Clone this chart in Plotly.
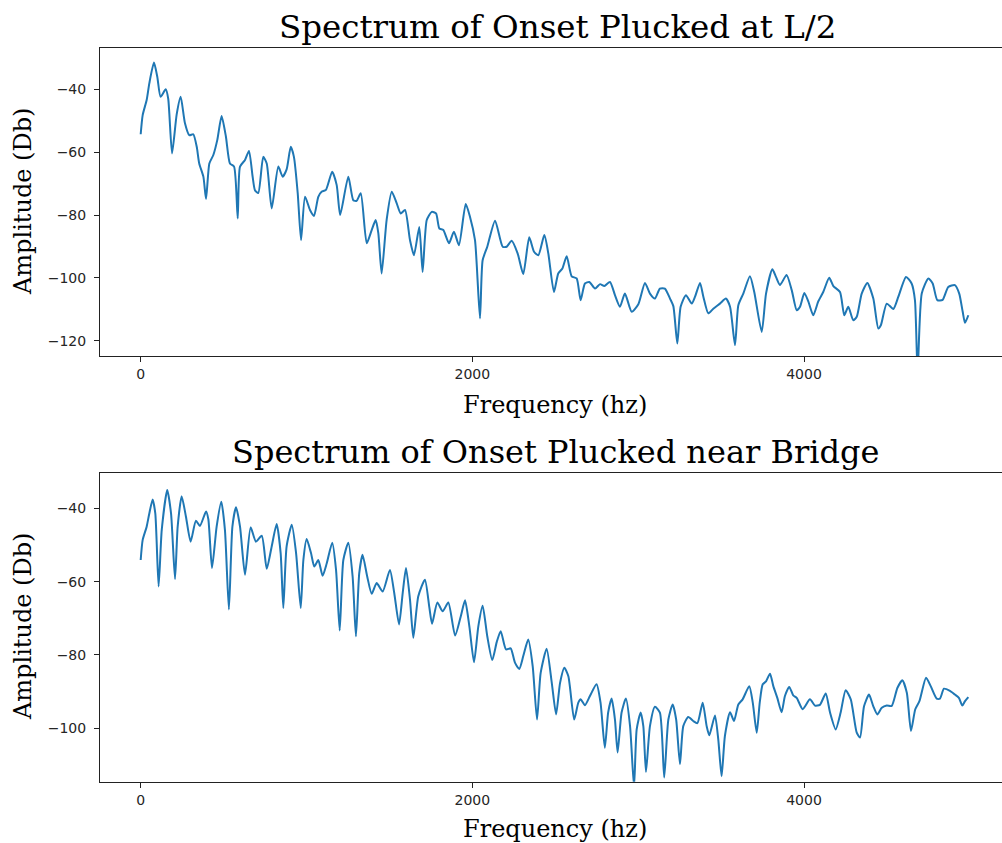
import plotly.graph_objects as go

# ---------------- data ----------------
freq_top = [0, 12, 36, 52, 80, 100, 120, 151, 166, 189, 217, 241, 267, 293, 317, 338, 353, 378, 394, 414,
            438, 462, 488, 514, 538, 563, 585, 599, 629, 653, 675, 689, 709, 739, 760, 790, 830, 856, 880, 905,
            924, 947, 967, 991, 1021, 1045, 1071, 1091, 1117, 1155, 1182, 1203, 1252, 1282, 1302, 1327, 1363,
            1393, 1417, 1433, 1453, 1483, 1514, 1544, 1568, 1594, 1624, 1648, 1680, 1700, 1725, 1755, 1781,
            1801, 1825, 1859, 1889, 1919, 1960, 1986, 2016, 2046, 2062, 2090, 2137, 2183, 2207, 2237, 2273,
            2307, 2343, 2372, 2398, 2434, 2458, 2492, 2518, 2543, 2569, 2599, 2629, 2653, 2679, 2705, 2740,
            2770, 2796, 2830, 2860, 2890, 2920, 2961, 3001, 3041, 3071, 3101, 3131, 3161, 3192, 3212, 3236,
            3256, 3288, 3323, 3343, 3373, 3393, 3423, 3453, 3493, 3529, 3554, 3584, 3604, 3634, 3674, 3700,
            3745, 3771, 3809, 3831, 3855, 3895, 3926, 3956, 3976, 4002, 4026, 4056, 4086, 4116, 4152, 4177,
            4217, 4243, 4267, 4297, 4318, 4348, 4382, 4418, 4448, 4464, 4499, 4539, 4569, 4615, 4649, 4669,
            4685, 4710, 4750, 4776, 4804, 4836, 4870, 4910, 4936, 4957, 4971, 4991]
amp_top = [-54.3, -48.2, -43.4, -38.1, -31.5, -36, -42.4, -40, -43, -60.4, -48, -42.4, -50.8, -54.6, -54.3,
           -58.3, -63.6, -67.8, -74.9, -63.6, -60.9, -56.1, -48.5, -55.1, -63.6, -64.6, -81.1, -64.6, -62.5,
           -59.6, -67.8, -72.1, -73, -61.5, -63.6, -77.9, -64.6, -67.8, -65.5, -58.3, -61.5, -73.1, -88,
           -74.2, -78.4, -80.3, -74.2, -72.6, -72, -66.2, -70.5, -80, -67.8, -75.3, -75.5, -73.1, -89,
           -84.8, -81.6, -85.8, -98.6, -81.6, -72.6, -76.3, -79.5, -78.4, -88, -92.8, -83.8, -98.1, -81.6,
           -79, -79.5, -84.3, -84.8, -89, -85.3, -89.6, -76.5, -80.6, -88, -112.9, -94.4, -90.1, -81.8,
           -90.1, -90.1, -88.2, -92.2, -98.8, -87.1, -91.7, -92.8, -86.4, -92.2, -104.5, -98.6, -97, -93.1,
           -99.5, -100.2, -107.1, -101.8, -101.3, -103.4, -102, -102.6, -101.3, -105.5, -109.2, -105,
           -110.8, -108.4, -101.6, -105, -106.6, -103.4, -103.4, -106.6, -109, -120.9, -109.2, -105.5,
           -108.2, -106, -101.6, -106, -111.3, -109.8, -108.2, -106.6, -109.2, -121.4, -108.7, -105, -99.5,
           -104.5, -117.2, -105, -97.3, -99.7, -102.3, -99.1, -103.9, -110.3, -109.2, -104.8, -107.5,
           -111.9, -107.5, -104.5, -100, -102.6, -104.5, -111.9, -109.2, -113.5, -112.4, -105, -101.6,
           -106.6, -116.1, -115, -108.2, -109.9, -106, -99.7, -101.8, -107.1, -130, -105, -100.2, -101.8,
           -107.1, -107, -102.9, -102.3, -105, -110.8, -114.3, -111.9]

freq_bottom = [0, 12, 36, 52, 72, 88, 108, 127, 160, 183, 207, 223, 247, 273, 301, 333, 357, 394, 408, 430,
               458, 486, 508, 532, 553, 575, 599, 629, 663, 695, 730, 760, 790, 820, 844, 860, 880, 911, 937,
               965, 981, 1001, 1027, 1047, 1071, 1097, 1122, 1155, 1178, 1200, 1222, 1252, 1278, 1298, 1318,
               1338, 1366, 1393, 1423, 1459, 1503, 1529, 1558, 1580, 1600, 1624, 1644, 1674, 1714, 1740, 1757,
               1789, 1821, 1855, 1896, 1930, 1956, 1982, 2010, 2036, 2062, 2090, 2120, 2147, 2171, 2203, 2231,
               2257, 2283, 2307, 2337, 2364, 2390, 2412, 2448, 2479, 2505, 2529, 2555, 2579, 2614, 2639, 2653,
               2679, 2709, 2749, 2773, 2799, 2819, 2840, 2860, 2876, 2900, 2926, 2951, 2975, 2991, 3015, 3031,
               3047, 3071, 3101, 3131, 3157, 3182, 3208, 3229, 3252, 3272, 3302, 3332, 3357, 3389, 3413, 3429,
               3463, 3483, 3503, 3523, 3554, 3578, 3604, 3630, 3670, 3691, 3715, 3733, 3751, 3771, 3795, 3815,
               3839, 3865, 3885, 3911, 3935, 3956, 3992, 4036, 4066, 4096, 4131, 4157, 4191, 4221, 4251, 4282,
               4318, 4338, 4362, 4392, 4418, 4442, 4469, 4499, 4529, 4563, 4593, 4620, 4645, 4671, 4696, 4736,
               4764, 4800, 4820, 4844, 4880, 4910, 4934, 4955, 4971, 4991]
amp_bottom = [-54.1, -48.6, -45, -41.4, -37.6, -41.4, -61.3, -45.9, -35, -41.4, -59.3, -45, -36.7, -42.3,
              -49.1, -43.4, -44.8, -40.9, -43, -56.3, -45, -38.2, -45.9, -67.6, -45, -39.7, -45, -58.1, -45.2,
              -49.1, -47.5, -56.5, -50.4, -44.3, -52.2, -67.2, -50.4, -44.5, -52.2, -67.2, -54.1, -48.4, -52.2,
              -55.9, -54.1, -58.4, -55, -49.4, -56.8, -73.3, -54.1, -49.4, -58.6, -74.9, -57.7, -52.7, -58.6,
              -63.3, -60.4, -62.7, -56.8, -63.1, -71.7, -63.1, -56.3, -64.9, -75.3, -64, -59.5, -66.8, -71.5,
              -65.7, -68.1, -65.7, -74.7, -69.5, -65.1, -72.2, -82, -72.2, -66.6, -74.9, -81.4, -76.5, -73.5,
              -78.5, -78.2, -82.1, -83.8, -80.3, -75.8, -83.1, -97.6, -84.9, -78.3, -87.6, -96.2, -87.6, -83.5,
              -85.8, -97.6, -93, -92.1, -93.7, -91.2, -88, -93, -105.3, -95.7, -91.9, -97.6, -106.6, -95.7,
              -91.9, -99.4, -116, -100.3, -95.7, -99.4, -111.9, -99.4, -94.1, -95.7, -113.4, -97.6, -93.5,
              -97.6, -109.8, -99.4, -96.9, -98, -98.6, -93, -99.4, -101.9, -96.5, -103, -113.1, -102.1, -95.6,
              -98, -93.5, -92.1, -88.5, -93, -101.2, -93, -88, -87.2, -85.1, -88.5, -91.7, -95.6, -91.2, -88.7,
              -91, -91.7, -94.8, -92.1, -93.8, -93.6, -90.5, -95.7, -100.3, -95.7, -89.6, -92.1, -101.2,
              -102.5, -94, -90.8, -94, -96.2, -94.4, -93.8, -93.9, -89, -86.9, -90.3, -100.7, -94.8, -92.6,
              -86.2, -88.5, -91.9, -91.9, -89.2, -89.8, -90.8, -91.7, -93.8, -92.6, -91.5]

x_ticks = [0, 2000, 4000]
x_tick_labels = ["0", "2000", "4000"]
y_ticks_top = [-120, -100, -80, -60, -40]
y_ticks_bottom = [-100, -80, -60, -40]

title_top = "Spectrum of Onset Plucked at L/2"
title_bottom = "Spectrum of Onset Plucked near Bridge"
x_label = "Frequency (hz)"
y_label = "Amplitude (Db)"

# ---------------- layout constants ----------------
W, H = 1002, 843
LINE_COLOR = "#1f77b4"
SERIF = "DejaVu Serif, serif"
SANS = "DejaVu Sans, sans-serif"
TEXT = "#262626"


def px(x):
    return x / W


def py(y):
    return 1 - y / H


fig = go.Figure()
line_style = dict(color=LINE_COLOR, width=2, shape="spline", smoothing=0.6)
fig.add_trace(go.Scatter(x=freq_top, y=amp_top, mode="lines",
                         line=line_style, xaxis="x", yaxis="y", showlegend=False))
fig.add_trace(go.Scatter(x=freq_bottom, y=amp_bottom, mode="lines",
                         line=line_style, xaxis="x2", yaxis="y2", showlegend=False))

x_common = dict(range=[-245.4, 5194], tickvals=x_ticks, ticktext=x_tick_labels,
                showline=True, linecolor="#222", linewidth=1, mirror=True,
                ticks="outside", ticklen=5, tickwidth=1, tickcolor="#222",
                showgrid=False, zeroline=False,
                tickfont=dict(family=SANS, size=14, color=TEXT),
                domain=[px(100), 1.0])
y_common = dict(showline=True, linecolor="#222", linewidth=1, mirror=False,
                ticks="outside", ticklen=5, tickwidth=1, tickcolor="#222",
                showgrid=False, zeroline=False, ticklabelstandoff=5,
                tickfont=dict(family=SANS, size=14, color=TEXT))

fig.update_layout(
    width=W, height=H, autosize=False,
    margin=dict(l=0, r=0, t=0, b=0),
    paper_bgcolor="white", plot_bgcolor="white",
    xaxis=dict(**x_common, anchor="y"),
    yaxis=dict(**y_common, range=[-124.87, -26.76], tickvals=y_ticks_top,
               domain=[py(356), py(47.7)], anchor="x"),
    xaxis2=dict(**x_common, anchor="y2"),
    yaxis2=dict(**y_common, range=[-114.56, -30.29], tickvals=y_ticks_bottom,
                domain=[py(781.7), py(472.7)], anchor="x2"),
)

cx = px(557)
annotations = [
    dict(text=title_top, x=cx, y=py(47.7), xref="paper", yref="paper", xanchor="center",
         yanchor="bottom", yshift=0, showarrow=False, font=dict(family=SERIF, size=32.5, color="black")),
    dict(text=title_bottom, x=cx - px(2), y=py(472.7), xref="paper", yref="paper", xanchor="center",
         yanchor="bottom", yshift=0, showarrow=False, font=dict(family=SERIF, size=32, color="black")),
    dict(text=x_label, x=px(554.5), y=py(405), xref="paper", yref="paper", xanchor="center",
         yanchor="middle", showarrow=False, font=dict(family=SERIF, size=24, color="black")),
    dict(text=x_label, x=px(554.5), y=py(829), xref="paper", yref="paper", xanchor="center",
         yanchor="middle", showarrow=False, font=dict(family=SERIF, size=24, color="black")),
    dict(text=y_label, x=px(23), y=py(202), xref="paper", yref="paper", xanchor="center",
         yanchor="middle", textangle=-90, showarrow=False, font=dict(family=SERIF, size=24, color="black")),
    dict(text=y_label, x=px(23), y=py(627), xref="paper", yref="paper", xanchor="center",
         yanchor="middle", textangle=-90, showarrow=False, font=dict(family=SERIF, size=24, color="black")),
]
fig.update_layout(annotations=annotations)

fig.write_html("out.html")
